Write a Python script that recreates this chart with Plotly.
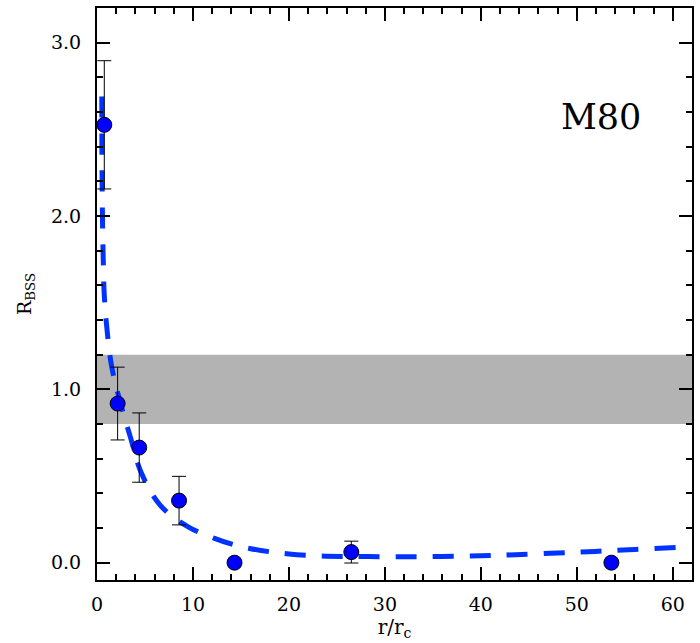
import plotly.graph_objects as go

# Observed data points
r_obs = [0.76, 2.15, 4.4, 8.55, 14.33, 26.5, 53.6]
rbss_obs = [2.526, 0.918, 0.664, 0.358, 0.0, 0.061, 0.0]
rbss_err = [0.37, 0.21, 0.20, 0.14, None, 0.063, None]

# Model curve
r_model = [0.5, 0.52, 0.58, 0.65, 0.75, 1.0, 1.5, 2.4, 3.5, 4.6, 6.6, 9.5, 12.25,
           14.15, 15.9, 18, 20, 22.8, 25.6, 28.3, 32, 36, 40, 43.6, 48, 51.9, 56,
           60.5, 61.5]
rbss_model = [2.69, 2.3, 1.95, 1.75, 1.55, 1.37, 1.14, 0.93, 0.72, 0.52, 0.33, 0.207,
              0.14, 0.105, 0.082, 0.063, 0.05, 0.04, 0.036, 0.035, 0.034, 0.036,
              0.040, 0.046, 0.056, 0.065, 0.076, 0.088, 0.092]

band_low, band_high = 0.8, 1.2
label_text = "M80"
label_x, label_y = 52.5, 2.57

fig = go.Figure()

fig.add_shape(type="rect", xref="paper", yref="y", x0=0, x1=1, y0=band_low, y1=band_high,
              fillcolor="#b3b3b3", line=dict(width=0), layer="below")

fig.add_trace(go.Scatter(x=r_model, y=rbss_model, mode="lines",
                         line=dict(color="#0033ff", width=5, dash="21px,16px", shape="spline"),
                         hoverinfo="skip", showlegend=False))

err_arr = [e if e is not None else 0 for e in rbss_err]
fig.add_trace(go.Scatter(x=r_obs, y=rbss_obs, mode="markers",
                         marker=dict(color="#0000ff", size=15, line=dict(color="black", width=1)),
                         error_y=dict(type="data", array=err_arr, visible=True, color="black",
                                      thickness=1, width=7),
                         showlegend=False))

fig.add_annotation(x=label_x, y=label_y, text=label_text, showarrow=False,
                   font=dict(family="DejaVu Serif", size=35, color="black"))

axis_common = dict(showgrid=False, zeroline=False, showline=True, linecolor="black",
                   linewidth=2, ticks="inside", tickcolor="black", tickwidth=1.5,
                   ticklen=13, mirror="allticks",
                   tickfont=dict(family="DejaVu Serif", size=19, color="black"))

fig.update_xaxes(range=[0, 62], dtick=10, tick0=0, ticklabelstandoff=6,
                 minor=dict(dtick=2, ticklen=6, ticks="inside", tickcolor="black", tickwidth=1.5),
                 title=dict(text="r/r<sub>c</sub>", font=dict(family="DejaVu Serif", size=20, color="black"),
                            standoff=6),
                 **axis_common)
fig.update_yaxes(range=[-0.1, 3.2], dtick=1, tick0=0, tickformat=".1f", ticklabelstandoff=10,
                 minor=dict(dtick=0.2, ticklen=6, ticks="inside", tickcolor="black", tickwidth=1.5),
                 title=dict(text="R<sub>BSS</sub>", font=dict(family="DejaVu Serif", size=19, color="black"),
                            standoff=14),
                 **axis_common)

fig.update_layout(width=700, height=643, margin=dict(l=97, r=6, t=6, b=63),
                  plot_bgcolor="white", paper_bgcolor="white")

fig.write_html("out.html")
